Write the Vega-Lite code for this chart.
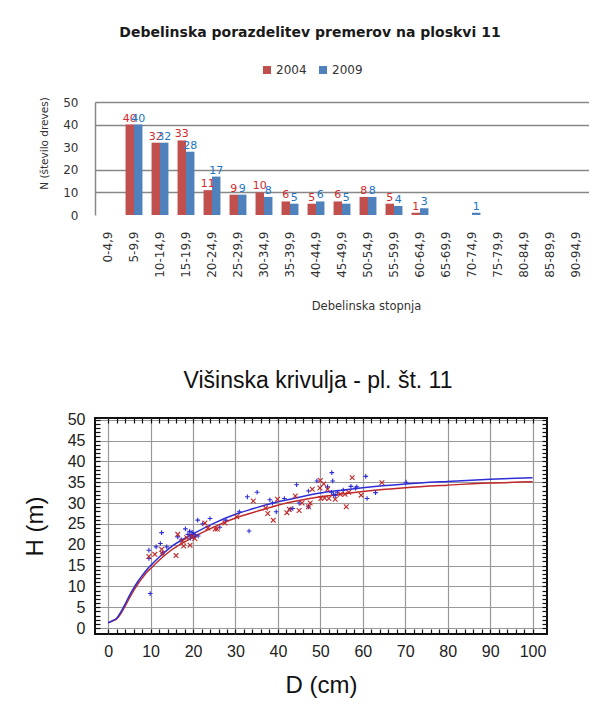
{
  "$schema": "https://vega.github.io/schema/vega-lite/v6.json",
  "background": "white",
  "padding": {"left": 22, "top": 26, "right": 0, "bottom": 0},
  "spacing": 56,
  "resolve": {"scale": {"color": "independent", "shape": "independent"}, "legend": {"color": "independent", "shape": "independent"}},
  "config": {"view": {"stroke": null}, "axis": {"labelOverlap": false}},
  "datasets": {
    "stopnje": [
      {"razred": "5-9,9", "leto": "2004", "n": 40}, {"razred": "5-9,9", "leto": "2009", "n": 40},
      {"razred": "10-14,9", "leto": "2004", "n": 32}, {"razred": "10-14,9", "leto": "2009", "n": 32},
      {"razred": "15-19,9", "leto": "2004", "n": 33}, {"razred": "15-19,9", "leto": "2009", "n": 28},
      {"razred": "20-24,9", "leto": "2004", "n": 11}, {"razred": "20-24,9", "leto": "2009", "n": 17},
      {"razred": "25-29,9", "leto": "2004", "n": 9}, {"razred": "25-29,9", "leto": "2009", "n": 9},
      {"razred": "30-34,9", "leto": "2004", "n": 10}, {"razred": "30-34,9", "leto": "2009", "n": 8},
      {"razred": "35-39,9", "leto": "2004", "n": 6}, {"razred": "35-39,9", "leto": "2009", "n": 5},
      {"razred": "40-44,9", "leto": "2004", "n": 5}, {"razred": "40-44,9", "leto": "2009", "n": 6},
      {"razred": "45-49,9", "leto": "2004", "n": 6}, {"razred": "45-49,9", "leto": "2009", "n": 5},
      {"razred": "50-54,9", "leto": "2004", "n": 8}, {"razred": "50-54,9", "leto": "2009", "n": 8},
      {"razred": "55-59,9", "leto": "2004", "n": 5}, {"razred": "55-59,9", "leto": "2009", "n": 4},
      {"razred": "60-64,9", "leto": "2004", "n": 1}, {"razred": "60-64,9", "leto": "2009", "n": 3},
      {"razred": "70-74,9", "leto": "2009", "n": 1}
    ],
    "krivulja": [
      {"leto": "2004", "D": 0, "H": 1.3}, {"leto": "2004", "D": 1, "H": 1.7}, {"leto": "2004", "D": 2, "H": 2.2},
      {"leto": "2004", "D": 3, "H": 3.5}, {"leto": "2004", "D": 4, "H": 5.3}, {"leto": "2004", "D": 5, "H": 7.2},
      {"leto": "2004", "D": 6, "H": 9.0}, {"leto": "2004", "D": 7, "H": 10.6}, {"leto": "2004", "D": 8, "H": 12.0},
      {"leto": "2004", "D": 9, "H": 13.3}, {"leto": "2004", "D": 10, "H": 14.3}, {"leto": "2004", "D": 12, "H": 16.3},
      {"leto": "2004", "D": 15, "H": 18.8}, {"leto": "2004", "D": 20, "H": 21.8}, {"leto": "2004", "D": 25, "H": 24.3},
      {"leto": "2004", "D": 30, "H": 26.4}, {"leto": "2004", "D": 35, "H": 28.0}, {"leto": "2004", "D": 40, "H": 29.5},
      {"leto": "2004", "D": 45, "H": 30.6}, {"leto": "2004", "D": 50, "H": 31.5}, {"leto": "2004", "D": 55, "H": 32.2},
      {"leto": "2004", "D": 60, "H": 32.8}, {"leto": "2004", "D": 70, "H": 33.7}, {"leto": "2004", "D": 80, "H": 34.3},
      {"leto": "2004", "D": 90, "H": 34.8}, {"leto": "2004", "D": 100, "H": 35.1},
      {"leto": "2009", "D": 0, "H": 1.3}, {"leto": "2009", "D": 1, "H": 1.8}, {"leto": "2009", "D": 2, "H": 2.4},
      {"leto": "2009", "D": 3, "H": 3.9}, {"leto": "2009", "D": 4, "H": 5.8}, {"leto": "2009", "D": 5, "H": 7.8},
      {"leto": "2009", "D": 6, "H": 9.6}, {"leto": "2009", "D": 7, "H": 11.2}, {"leto": "2009", "D": 8, "H": 12.6},
      {"leto": "2009", "D": 9, "H": 13.9}, {"leto": "2009", "D": 10, "H": 15.0}, {"leto": "2009", "D": 12, "H": 17.0},
      {"leto": "2009", "D": 15, "H": 19.6}, {"leto": "2009", "D": 20, "H": 22.6}, {"leto": "2009", "D": 25, "H": 25.2},
      {"leto": "2009", "D": 30, "H": 27.3}, {"leto": "2009", "D": 35, "H": 28.9}, {"leto": "2009", "D": 40, "H": 30.3},
      {"leto": "2009", "D": 45, "H": 31.4}, {"leto": "2009", "D": 50, "H": 32.4}, {"leto": "2009", "D": 55, "H": 33.1},
      {"leto": "2009", "D": 60, "H": 33.7}, {"leto": "2009", "D": 70, "H": 34.6}, {"leto": "2009", "D": 80, "H": 35.2},
      {"leto": "2009", "D": 90, "H": 35.7}, {"leto": "2009", "D": 100, "H": 36.1}
    ],
    "drevesa": [
      {"leto": "2009", "D": 9.6, "H": 18.7}, {"leto": "2009", "D": 9.6, "H": 16.7}, {"leto": "2009", "D": 9.9, "H": 8.3},
      {"leto": "2009", "D": 11.3, "H": 19.5}, {"leto": "2009", "D": 12.3, "H": 20.3}, {"leto": "2009", "D": 12.6, "H": 22.9},
      {"leto": "2009", "D": 12.8, "H": 18.0}, {"leto": "2009", "D": 13.8, "H": 19.5}, {"leto": "2009", "D": 16.4, "H": 21.9},
      {"leto": "2009", "D": 17.3, "H": 21.2}, {"leto": "2009", "D": 18.2, "H": 23.8}, {"leto": "2009", "D": 18.8, "H": 22.5},
      {"leto": "2009", "D": 19.2, "H": 23.2}, {"leto": "2009", "D": 19.5, "H": 22.2}, {"leto": "2009", "D": 19.8, "H": 23.0},
      {"leto": "2009", "D": 20.0, "H": 22.5}, {"leto": "2009", "D": 20.2, "H": 21.9}, {"leto": "2009", "D": 19.4, "H": 21.6},
      {"leto": "2009", "D": 20.5, "H": 22.4}, {"leto": "2009", "D": 21.1, "H": 25.9}, {"leto": "2009", "D": 21.2, "H": 22.1},
      {"leto": "2009", "D": 22.3, "H": 25.0}, {"leto": "2009", "D": 24.0, "H": 26.3}, {"leto": "2009", "D": 26.3, "H": 24.2},
      {"leto": "2009", "D": 27.7, "H": 25.9}, {"leto": "2009", "D": 30.9, "H": 27.9}, {"leto": "2009", "D": 32.8, "H": 31.5},
      {"leto": "2009", "D": 33.2, "H": 23.3}, {"leto": "2009", "D": 35.1, "H": 32.6}, {"leto": "2009", "D": 38.1, "H": 30.8},
      {"leto": "2009", "D": 38.7, "H": 30.0}, {"leto": "2009", "D": 39.6, "H": 27.9}, {"leto": "2009", "D": 41.5, "H": 31.1},
      {"leto": "2009", "D": 42.9, "H": 28.5}, {"leto": "2009", "D": 43.5, "H": 28.7}, {"leto": "2009", "D": 44.4, "H": 34.4},
      {"leto": "2009", "D": 45.0, "H": 30.0}, {"leto": "2009", "D": 47.2, "H": 29.1}, {"leto": "2009", "D": 47.2, "H": 32.9},
      {"leto": "2009", "D": 49.2, "H": 35.3}, {"leto": "2009", "D": 51.7, "H": 33.9}, {"leto": "2009", "D": 52.6, "H": 32.6},
      {"leto": "2009", "D": 52.7, "H": 37.3}, {"leto": "2009", "D": 52.9, "H": 35.3}, {"leto": "2009", "D": 53.1, "H": 32.1},
      {"leto": "2009", "D": 53.5, "H": 31.8}, {"leto": "2009", "D": 54.0, "H": 32.6}, {"leto": "2009", "D": 55.4, "H": 33.1},
      {"leto": "2009", "D": 57.2, "H": 34.0}, {"leto": "2009", "D": 58.3, "H": 33.6}, {"leto": "2009", "D": 58.6, "H": 33.9},
      {"leto": "2009", "D": 60.7, "H": 36.4}, {"leto": "2009", "D": 61.0, "H": 31.1}, {"leto": "2009", "D": 63.0, "H": 32.5},
      {"leto": "2009", "D": 70.2, "H": 35.0},
      {"leto": "2004", "D": 9.6, "H": 17.2}, {"leto": "2004", "D": 11.0, "H": 17.7}, {"leto": "2004", "D": 12.6, "H": 18.9},
      {"leto": "2004", "D": 12.8, "H": 17.9}, {"leto": "2004", "D": 16.0, "H": 17.4}, {"leto": "2004", "D": 16.4, "H": 22.5},
      {"leto": "2004", "D": 17.5, "H": 20.9}, {"leto": "2004", "D": 17.8, "H": 19.7}, {"leto": "2004", "D": 18.5, "H": 21.7},
      {"leto": "2004", "D": 19.3, "H": 19.9}, {"leto": "2004", "D": 19.8, "H": 22.0}, {"leto": "2004", "D": 20.4, "H": 21.5},
      {"leto": "2004", "D": 22.8, "H": 25.2}, {"leto": "2004", "D": 23.5, "H": 24.0}, {"leto": "2004", "D": 25.2, "H": 23.8},
      {"leto": "2004", "D": 25.7, "H": 23.8}, {"leto": "2004", "D": 27.5, "H": 25.2}, {"leto": "2004", "D": 30.3, "H": 26.7},
      {"leto": "2004", "D": 34.2, "H": 30.5}, {"leto": "2004", "D": 37.1, "H": 28.8}, {"leto": "2004", "D": 37.6, "H": 27.5},
      {"leto": "2004", "D": 38.9, "H": 25.9}, {"leto": "2004", "D": 39.9, "H": 30.9}, {"leto": "2004", "D": 42.1, "H": 27.7},
      {"leto": "2004", "D": 42.7, "H": 28.5}, {"leto": "2004", "D": 44.1, "H": 31.7}, {"leto": "2004", "D": 45.0, "H": 28.2},
      {"leto": "2004", "D": 45.7, "H": 30.0}, {"leto": "2004", "D": 47.2, "H": 29.1}, {"leto": "2004", "D": 47.6, "H": 30.0},
      {"leto": "2004", "D": 48.1, "H": 33.3}, {"leto": "2004", "D": 49.9, "H": 33.6}, {"leto": "2004", "D": 50.0, "H": 35.4},
      {"leto": "2004", "D": 50.8, "H": 34.6}, {"leto": "2004", "D": 50.1, "H": 31.1}, {"leto": "2004", "D": 51.0, "H": 31.2},
      {"leto": "2004", "D": 51.7, "H": 33.3}, {"leto": "2004", "D": 52.0, "H": 31.1}, {"leto": "2004", "D": 53.5, "H": 30.9},
      {"leto": "2004", "D": 54.7, "H": 32.1}, {"leto": "2004", "D": 55.8, "H": 32.1}, {"leto": "2004", "D": 56.1, "H": 29.1},
      {"leto": "2004", "D": 56.7, "H": 32.6}, {"leto": "2004", "D": 57.5, "H": 36.1}, {"leto": "2004", "D": 59.6, "H": 31.9},
      {"leto": "2004", "D": 64.5, "H": 34.9}
    ]
  },
  "vconcat": [
    {
      "width": 494,
      "height": 113,
      "view": {"stroke": null},
      "title": {
        "text": "Debelinska porazdelitev premerov na ploskvi 11",
        "font": "DejaVu Sans", "fontSize": 14, "fontWeight": "bold", "color": "#1a1a1a",
        "frame": "group", "anchor": "middle", "dx": -32, "offset": 24
      },
      "data": {"name": "stopnje"},
      "encoding": {
        "x": {
          "field": "razred", "type": "nominal", "sort": null,
          "scale": {"domain": ["0-4,9", "5-9,9", "10-14,9", "15-19,9", "20-24,9", "25-29,9", "30-34,9", "35-39,9", "40-44,9", "45-49,9", "50-54,9", "55-59,9", "60-64,9", "65-69,9", "70-74,9", "75-79,9", "80-84,9", "85-89,9", "90-94,9"], "paddingInner": 0.35, "paddingOuter": 0.175},
          "axis": {
            "title": "Debelinska stopnja", "titleFont": "DejaVu Sans", "titleFontSize": 11.5, "titleFontWeight": "normal", "titleColor": "#333",
            "titleX": 271, "titleY": 91, "titleAlign": "center", "titleBaseline": "middle",
            "labelAngle": -90, "labelFont": "DejaVu Sans", "labelFontSize": 12, "labelColor": "#333", "labelPadding": 16, "labelOverlap": false,
            "ticks": false, "tickSize": 0, "domain": false, "grid": false
          }
        },
        "xOffset": {"field": "leto", "type": "nominal", "scale": {"domain": ["2004", "2009"], "paddingInner": 0, "paddingOuter": 0}},
        "y": {
          "field": "n", "type": "quantitative",
          "scale": {"domain": [0, 50], "nice": false},
          "axis": {
            "values": [0, 10, 20, 30, 40, 50],
            "title": "N (število dreves)", "titleFont": "DejaVu Sans", "titleFontSize": 10.5, "titleFontWeight": "normal", "titleColor": "#333",
            "titleX": -51, "titleY": 41, "titleAlign": "center", "titleBaseline": "middle", "titleAngle": -90,
            "labelFont": "DejaVu Sans", "labelFontSize": 12, "labelColor": "#333", "labelPadding": 17, "labelOverlap": false, "labelFlush": false,
            "ticks": false, "tickSize": 0, "domain": true, "domainColor": "#888", "domainWidth": 1.5,
            "grid": true, "gridColor": "#888", "gridWidth": 1.5,
            "gridOpacity": {"condition": {"test": "datum.value === 30 || datum.value === 0", "value": 0}, "value": 1}
          }
        }
      },
      "layer": [
        {
          "mark": {"type": "bar"},
          "encoding": {
            "color": {
              "field": "leto", "type": "nominal",
              "scale": {"domain": ["2004", "2009"], "range": ["#C0504D", "#4F81BD"]},
              "legend": {
                "title": null, "orient": "none", "direction": "horizontal", "legendX": 166, "legendY": -38,
                "symbolType": "square", "symbolSize": 64, "symbolOpacity": 1,
                "labelFont": "DejaVu Sans", "labelFontSize": 12, "labelColor": "#333", "labelOffset": 3, "columnPadding": 10
              }
            }
          }
        },
        {
          "mark": {"type": "text", "dy": -6, "font": "DejaVu Sans", "fontSize": 11},
          "encoding": {
            "text": {"field": "n", "type": "quantitative"},
            "color": {"condition": {"test": "datum.leto === '2004'", "value": "#D42A2A"}, "value": "#2074C4"}
          }
        }
      ]
    },
    {
      "width": 452,
      "height": 216,
      "view": {"stroke": "#111", "strokeWidth": 2},
      "title": {
        "text": "Višinska krivulja - pl. št. 11",
        "font": "Liberation Sans", "fontSize": 23, "fontWeight": "normal", "color": "#111",
        "frame": "group", "anchor": "middle", "dx": -3, "offset": 19
      },
      "resolve": {"axis": {"x": "independent", "y": "independent"}},
      "layer": [
        {
          "data": {"name": "krivulja"},
          "mark": {"type": "line", "interpolate": "monotone", "strokeWidth": 1.5},
          "encoding": {
            "x": {
              "field": "D", "type": "quantitative",
              "scale": {"domain": [-3.1, 103.4], "nice": false, "zero": false},
              "axis": {
                "orient": "bottom",
                "values": [0, 2, 4, 6, 8, 10, 12, 14, 16, 18, 20, 22, 24, 26, 28, 30, 32, 34, 36, 38, 40, 42, 44, 46, 48, 50, 52, 54, 56, 58, 60, 62, 64, 66, 68, 70, 72, 74, 76, 78, 80, 82, 84, 86, 88, 90, 92, 94, 96, 98, 100],
                "labelExpr": "datum.value % 10 === 0 ? datum.label : ''",
                "title": "D (cm)", "titleFont": "Liberation Sans", "titleFontSize": 24, "titleFontWeight": "normal", "titleColor": "#111",
                "titleY": 51, "titleBaseline": "middle",
                "labelFont": "Liberation Sans", "labelFontSize": 16, "labelColor": "#222", "labelPadding": 14, "labelOverlap": false, "labelFlush": false,
                "ticks": true, "tickSize": -5, "tickColor": "#111", "tickWidth": 1.2,
                "domain": false,
                "grid": true, "gridColor": "#999", "gridWidth": 1.2,
                "gridOpacity": {"condition": {"test": "datum.value % 10 === 0", "value": 1}, "value": 0}
              }
            },
            "y": {
              "field": "H", "type": "quantitative",
              "scale": {"domain": [-1.4, 50.4], "nice": false, "zero": false},
              "axis": {
                "orient": "left",
                "values": [0, 1, 2, 3, 4, 5, 6, 7, 8, 9, 10, 11, 12, 13, 14, 15, 16, 17, 18, 19, 20, 21, 22, 23, 24, 25, 26, 27, 28, 29, 30, 31, 32, 33, 34, 35, 36, 37, 38, 39, 40, 41, 42, 43, 44, 45, 46, 47, 48, 49, 50],
                "labelExpr": "datum.value % 5 === 0 ? datum.label : ''",
                "title": "H (m)", "titleFont": "Liberation Sans", "titleFontSize": 24, "titleFontWeight": "normal", "titleColor": "#111",
                "titleX": -60, "titleBaseline": "middle", "titleAngle": -90,
                "labelFont": "Liberation Sans", "labelFontSize": 16, "labelColor": "#222", "labelPadding": 15, "labelOverlap": false, "labelFlush": false,
                "ticks": true, "tickSize": -5, "tickColor": "#111", "tickWidth": 1.2,
                "domain": false,
                "grid": true, "gridColor": "#999", "gridWidth": 1.2,
                "gridOpacity": {"condition": {"test": "datum.value % 5 === 0", "value": 1}, "value": 0}
              }
            },
            "color": {
              "field": "leto", "type": "nominal",
              "scale": {"domain": ["2004", "2009"], "range": ["#C02828", "#2E2ED6"]},
              "legend": null
            }
          }
        },
        {
          "data": {"name": "drevesa"},
          "mark": {"type": "point", "filled": false, "strokeWidth": 1.1, "size": 22, "opacity": 1},
          "encoding": {
            "x": {
              "field": "D", "type": "quantitative",
              "axis": {
                "orient": "top",
                "values": [0, 2, 4, 6, 8, 10, 12, 14, 16, 18, 20, 22, 24, 26, 28, 30, 32, 34, 36, 38, 40, 42, 44, 46, 48, 50, 52, 54, 56, 58, 60, 62, 64, 66, 68, 70, 72, 74, 76, 78, 80, 82, 84, 86, 88, 90, 92, 94, 96, 98, 100],
                "labels": false, "title": null, "domain": false, "grid": false,
                "ticks": true, "tickSize": -5, "tickColor": "#111", "tickWidth": 1.2
              }
            },
            "y": {
              "field": "H", "type": "quantitative",
              "axis": {
                "orient": "right",
                "values": [0, 1, 2, 3, 4, 5, 6, 7, 8, 9, 10, 11, 12, 13, 14, 15, 16, 17, 18, 19, 20, 21, 22, 23, 24, 25, 26, 27, 28, 29, 30, 31, 32, 33, 34, 35, 36, 37, 38, 39, 40, 41, 42, 43, 44, 45, 46, 47, 48, 49, 50],
                "labels": false, "title": null, "domain": false, "grid": false,
                "ticks": true, "tickSize": -5, "tickColor": "#111", "tickWidth": 1.2
              }
            },
            "color": {"field": "leto", "type": "nominal", "legend": null},
            "shape": {
              "field": "leto", "type": "nominal",
              "scale": {"domain": ["2004", "2009"], "range": ["M-1,-1L1,1M-1,1L1,-1", "M-1,0L1,0M0,-1L0,1"]},
              "legend": null
            }
          }
        }
      ]
    }
  ]
}
